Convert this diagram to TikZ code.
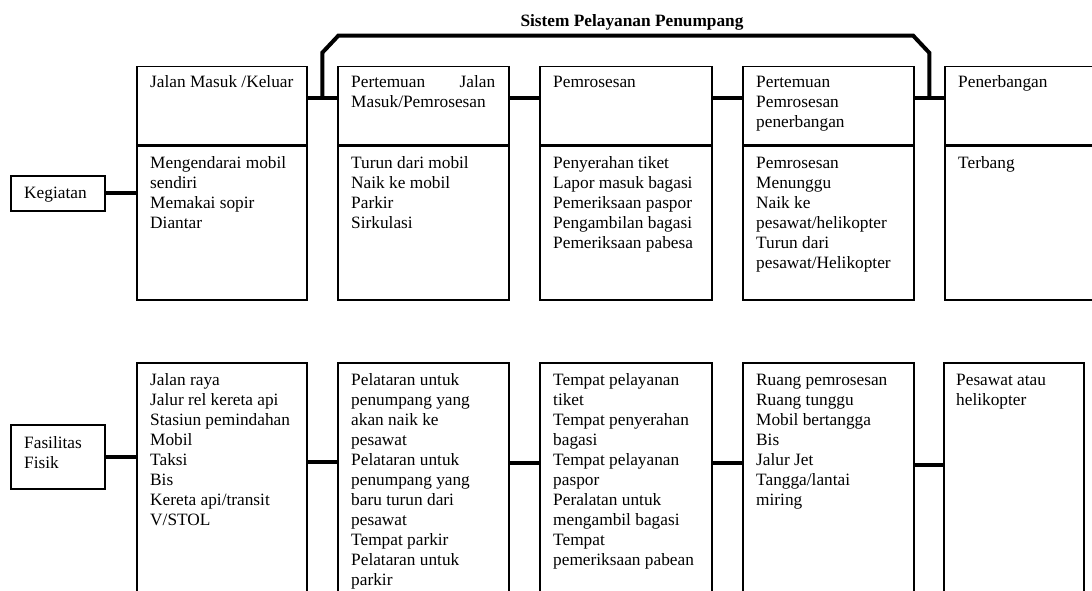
\documentclass[tikz,border=0pt]{standalone}
\usepackage{fontspec}
\setmainfont{Liberation Serif}
\usetikzlibrary{calc}
\newcommand\rowt[1]{\hbox{#1}}
\newcommand\stk[1]{\vtop{\baselineskip=20pt\lineskiplimit=-50pt\lineskip=0pt #1}}
\begin{document}
\begin{tikzpicture}[x=1pt,y=-1pt,
  box/.style={draw, line width=1.5pt, inner sep=0pt, anchor=north west},
  tx/.style={anchor=base west, inner sep=0pt, font=\fontsize{17.3}{20}\selectfont},
  conn/.style={line width=4pt},
  divider/.style={line width=3.5pt}]
\useasboundingbox (0,0) rectangle (1092,591);
\clip (0,0) rectangle (1092,591);

% title
\node[inner sep=0pt, font=\fontsize{17.3}{20}\selectfont\bfseries] (title) at (632,22) {Sistem Pelayanan Penumpang};

% left labels
\node[box, minimum width=94pt, minimum height=35pt] (kg) at (10,175) {};
\node[tx] (kgt) at (24,198) {Kegiatan};
\node[box, minimum width=94pt, minimum height=64pt] (fs) at (10,424) {};
\node[tx] (fst) at (24,448) {\stk{\rowt{Fasilitas}\rowt{Fisik}}};

% top row: heads
\node[box, minimum width=170pt, minimum height=78pt] (h1) at (136,66) {};
\node[box, minimum width=171pt, minimum height=78pt] (h2) at (337,66) {};
\node[box, minimum width=172pt, minimum height=78pt] (h3) at (539,66) {};
\node[box, minimum width=171pt, minimum height=78pt] (h4) at (742,66) {};
\node[box, minimum width=170pt, minimum height=78pt] (h5) at (944,66) {};
% top row: bodies
\node[box, minimum width=170pt, minimum height=155pt] (b1) at (136,144) {};
\node[box, minimum width=171pt, minimum height=155pt] (b2) at (337,144) {};
\node[box, minimum width=172pt, minimum height=155pt] (b3) at (539,144) {};
\node[box, minimum width=171pt, minimum height=155pt] (b4) at (742,144) {};
\node[box, minimum width=170pt, minimum height=155pt] (b5) at (944,144) {};
% dividers
\foreach \n in {1,...,5} {\draw[divider] (h\n.south west) -- (h\n.south east);}

% head texts
\node[tx] (h1t) at (150,88) {Jalan Masuk /Keluar};
\node[tx] (h2t) at (351,88) {\stk{\rowt{\hbox to 144pt{Pertemuan\hfill Jalan}}\rowt{Masuk/Pemrosesan}}};
\node[tx] (h3t) at (553,88) {Pemrosesan};
\node[tx] (h4t) at (756,88) {\stk{\rowt{Pertemuan}\rowt{Pemrosesan}\rowt{penerbangan}}};
\node[tx] (h5t) at (958,88) {Penerbangan};

% body texts
\node[tx] (b1t) at (150,168) {\stk{\rowt{Mengendarai mobil}\rowt{sendiri}\rowt{Memakai sopir}\rowt{Diantar}}};
\node[tx] (b2t) at (351,168) {\stk{\rowt{Turun dari mobil}\rowt{Naik ke mobil}\rowt{Parkir}\rowt{Sirkulasi}}};
\node[tx] (b3t) at (553,168) {\stk{\rowt{Penyerahan tiket}\rowt{Lapor masuk bagasi}\rowt{Pemeriksaan paspor}\rowt{Pengambilan bagasi}\rowt{Pemeriksaan pabesa}}};
\node[tx] (b4t) at (756,168) {\stk{\rowt{Pemrosesan}\rowt{Menunggu}\rowt{Naik ke}\rowt{pesawat/helikopter}\rowt{Turun dari}\rowt{pesawat/Helikopter}}};
\node[tx] (b5t) at (958,168) {Terbang};

% bottom row boxes
\node[box, minimum width=170pt, minimum height=238pt] (f1) at (136,362) {};
\node[box, minimum width=171pt, minimum height=238pt] (f2) at (337,362) {};
\node[box, minimum width=172pt, minimum height=238pt] (f3) at (539,362) {};
\node[box, minimum width=171pt, minimum height=238pt] (f4) at (742,362) {};
\node[box, minimum width=140pt, minimum height=238pt] (f5) at (943,362) {};

% bottom texts
\node[tx] (f1t) at (150,385) {\stk{\rowt{Jalan raya}\rowt{Jalur rel kereta api}\rowt{Stasiun pemindahan}\rowt{Mobil}\rowt{Taksi}\rowt{Bis}\rowt{Kereta api/transit}\rowt{V/STOL}}};
\node[tx] (f2t) at (351,385) {\stk{\rowt{Pelataran untuk}\rowt{penumpang yang}\rowt{akan naik ke}\rowt{pesawat}\rowt{Pelataran untuk}\rowt{penumpang yang}\rowt{baru turun dari}\rowt{pesawat}\rowt{Tempat parkir}\rowt{Pelataran untuk}\rowt{parkir}}};
\node[tx] (f3t) at (553,385) {\stk{\rowt{Tempat pelayanan}\rowt{tiket}\rowt{Tempat penyerahan}\rowt{bagasi}\rowt{Tempat pelayanan}\rowt{paspor}\rowt{Peralatan untuk}\rowt{mengambil bagasi}\rowt{Tempat}\rowt{pemeriksaan pabean}}};
\node[tx] (f4t) at (756,385) {\stk{\rowt{Ruang pemrosesan}\rowt{Ruang tunggu}\rowt{Mobil bertangga}\rowt{Bis}\rowt{Jalur Jet}\rowt{Tangga/lantai}\rowt{miring}}};
\node[tx] (f5t) at (956,385) {\stk{\rowt{Pesawat atau}\rowt{helikopter}}};

% connectors: left labels
\draw[conn] (kg.east) -- (kg.east -| b1.west);
\draw[conn] (fs.east) -- (fs.east -| f1.west);

% connectors: top row
\draw[conn] ([yshift=8pt]h1.east) -- ([yshift=8pt]h2.west);
\draw[conn] ([yshift=8pt]h2.east) -- ([yshift=8pt]h3.west);
\draw[conn] ([yshift=8pt]h3.east) -- ([yshift=8pt]h4.west);
\draw[conn] ([yshift=8pt]h4.east) -- ([yshift=8pt]h5.west);

% bracket
\coordinate (bA) at ($([yshift=8pt]h1.east)!0.5!([yshift=8pt]h2.west)$);
\coordinate (bB) at ($([yshift=8pt]h4.east)!0.5!([yshift=8pt]h5.west)$);
\draw[conn, line join=miter] (bA) -- ($(bA)+(0,-45)$) -- ($(bA)+(16,-62)$) -- ($(bB)+(-16,-62)$) -- ($(bB)+(0,-45)$) -- (bB);

% connectors: bottom row
\draw[conn] ([yshift=20pt]f1.east) -- ([yshift=20pt]f2.west);
\draw[conn] ([yshift=19pt]f2.east) -- ([yshift=19pt]f3.west);
\draw[conn] ([yshift=19pt]f3.east) -- ([yshift=19pt]f4.west);
\draw[conn] ([yshift=17pt]f4.east) -- ([yshift=17pt]f5.west);
\end{tikzpicture}
\end{document}
